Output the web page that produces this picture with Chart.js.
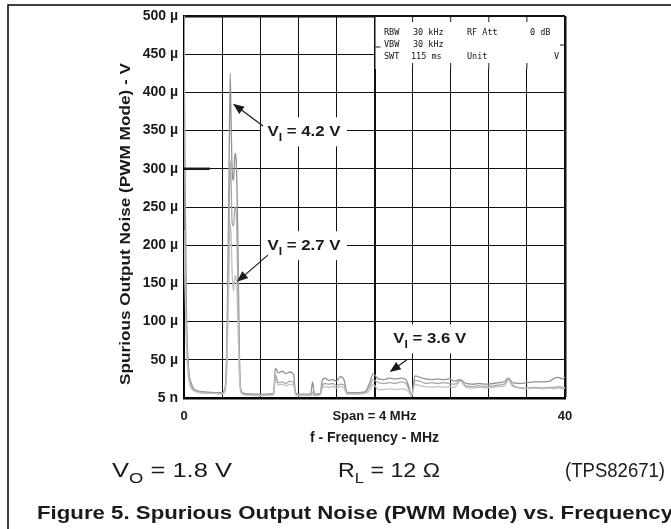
<!DOCTYPE html>
<html lang="en">
<head>
<meta charset="UTF-8">
<title>Spurious Output Noise (PWM Mode) vs. Frequency</title>
<script src="https://cdn.jsdelivr.net/npm/chart.js"></script>
<style>
  body { margin: 0; background: #fff; }
  canvas { display: block; }
</style>
</head>
<body>
<canvas id="chart" width="671" height="529"></canvas>
<script>
// frequency axis in screen units (0..40, 10 divisions, span 4 MHz)
const freq = [0, 0.1, 0.25, 0.45, 0.8, 1.3, 2.2, 3.2, 4.0, 4.3,
              4.5, 4.7, 4.85, 4.95, 5.05, 5.2, 5.35, 5.5, 5.65, 5.8,
              5.95, 6.3, 7.5, 8.6, 9.4, 9.6, 9.9, 10.3, 10.7, 11.1,
              11.5, 11.7, 11.9, 12.5, 13.3, 13.5, 13.7, 14.3, 14.5, 14.8,
              15.2, 15.6, 16.0, 16.4, 16.8, 17.1, 17.4, 18.2, 19.0, 19.5,
              19.85, 20.4, 21.0, 21.6, 22.2, 22.8, 23.3, 23.6, 23.9, 24.25,
              24.8, 25.4, 26.0, 26.6, 27.2, 27.8, 28.4, 29.0, 29.6, 30.3,
              31.0, 31.7, 32.4, 33.1, 33.7, 34.05, 34.5, 35.2, 36.0, 36.8,
              37.6, 38.4, 38.9, 39.3, 39.7, 40];

// noise in µV
const vi42 = [500, 300, 120, 45, 18, 10, 8, 7, 7, 12,
              70, 260, 425, 360, 300, 285, 320, 305, 210, 70,
              12, 6, 5, 5, 6, 39, 33, 35, 32, 34,
              31, 8, 5, 5, 5, 21, 5, 6, 22, 26,
              23, 24, 22, 28, 24, 8, 7, 7, 8, 20,
              32, 25, 24, 26, 25, 26, 24, 15, 3, 29,
              27, 25, 24, 25, 24, 25, 22, 24, 19, 18,
              19, 18, 19, 20, 22, 26, 20, 19, 20, 21,
              21, 22, 26, 27, 25, 27];

const vi36 = [500, 220, 90, 38, 15, 9, 7, 6, 6, 10,
              55, 200, 310, 280, 230, 225, 250, 240, 150, 50,
              10, 5, 4, 4, 5, 30, 20, 21, 19, 22,
              20, 6, 4, 4, 4, 8, 4, 5, 15, 19,
              18, 19, 16, 18, 17, 7, 6, 6, 7, 15,
              24, 20, 19, 20, 19, 21, 19, 12, 3, 23,
              22, 19, 20, 19, 20, 19, 18, 23, 16, 15,
              16, 15, 16, 17, 19, 25, 17, 14, 13, 14,
              13, 14, 14, 15, 14, 14];

const vi27 = [220, 150, 70, 30, 12, 8, 6, 6, 5, 9,
              40, 150, 230, 210, 165, 140, 160, 155, 100, 35,
              8, 4, 3, 3, 4, 25, 17, 18, 16, 18,
              17, 5, 3, 3, 3, 4, 3, 4, 12, 15,
              14, 15, 13, 15, 13, 5, 5, 5, 6, 10,
              18, 11, 11, 12, 11, 12, 11, 8, 3, 18,
              16, 15, 14, 15, 14, 15, 14, 22, 14, 13,
              14, 13, 14, 15, 16, 24, 15, 13, 12, 13,
              12, 13, 12, 13, 12, 13];

const xTickVals = [0, 20, 40];
const xTickText = ['0', 'Span = 4 MHz', '40'];
const yTickText = ['5 n', '50 µ', '100 µ', '150 µ', '200 µ', '250 µ',
                   '300 µ', '350 µ', '400 µ', '450 µ', '500 µ'];

const FONT = '"Liberation Sans", Arial, sans-serif';

// curve labels: text centre, arrow start, arrow tip (data coords)
const notes = [
  { v: '4.2', at: [12.6, 349], from: [8.3, 356], to: [5.15, 385] },
  { v: '2.7', at: [12.6, 200], from: [8.8, 187], to: [5.56, 152] },
  { v: '3.6', at: [25.8, 78],  from: [23.4, 50], to: [21.6, 34] }
];

function pts(vals) {
  return freq.map((f, i) => ({ x: f, y: vals[i] }));
}

// draws text made of runs (some subscripted), optionally stretched to a width
function drawRuns(ctx, runs, x, y, size, bold, width, align) {
  const f = s => (bold ? 'bold ' : '') + s + 'px ' + FONT;
  let w = 0;
  runs.forEach(r => {
    ctx.font = f(r.sub ? size * 0.72 : size);
    r.w = ctx.measureText(r.t).width;
    w += r.w;
  });
  const k = width ? width / w : 1;
  const x0 = align === 'center' ? x - w * k / 2 : x;
  ctx.save();
  ctx.translate(x0, y);
  ctx.scale(k, 1);
  let cx = 0;
  runs.forEach(r => {
    ctx.font = f(r.sub ? size * 0.72 : size);
    ctx.fillText(r.t, cx, r.sub ? size * 0.3 : 0);
    cx += r.w;
  });
  ctx.restore();
  return w * k;
}

function arrow(ctx, x1, y1, x2, y2) {
  const a = Math.atan2(y2 - y1, x2 - x1);
  const len = 11, hw = 4.5;
  ctx.beginPath();
  ctx.moveTo(x1, y1);
  ctx.lineTo(x2 - Math.cos(a) * len * 0.8, y2 - Math.sin(a) * len * 0.8);
  ctx.stroke();
  ctx.beginPath();
  ctx.moveTo(x2, y2);
  ctx.lineTo(x2 - Math.cos(a) * len + Math.sin(a) * hw, y2 - Math.sin(a) * len - Math.cos(a) * hw);
  ctx.lineTo(x2 - Math.cos(a) * len - Math.sin(a) * hw, y2 - Math.sin(a) * len + Math.cos(a) * hw);
  ctx.closePath();
  ctx.fill();
}

const decor = {
  id: 'decor',
  beforeDraw(chart) {
    const ctx = chart.ctx;
    ctx.save();
    ctx.fillStyle = '#fff';
    ctx.fillRect(0, 0, chart.width, chart.height);
    ctx.restore();
  },
  afterDatasetsDraw(chart) {
    const ctx = chart.ctx;
    const xs = chart.scales.x, ys = chart.scales.y;
    const area = chart.chartArea;
    const X = v => xs.getPixelForValue(v), Y = v => ys.getPixelForValue(v);
    ctx.save();
    ctx.fillStyle = '#1a1a1a';
    ctx.strokeStyle = '#1a1a1a';

    // display line marker at 300 µ
    ctx.lineWidth = 2.5;
    ctx.beginPath();
    ctx.moveTo(area.left, Y(300));
    ctx.lineTo(X(2.7), Y(300));
    ctx.stroke();

    // analyser settings box
    const bx = X(20) + 1, by = area.top + 1, bw = area.right - X(20) - 2, bh = 52;
    ctx.fillStyle = '#fff';
    ctx.fillRect(bx, by, bw, bh);
    ctx.fillStyle = '#111';
    ctx.lineWidth = 1;
    [24, 28, 32, 36].forEach(v => {
      ctx.beginPath();
      ctx.moveTo(X(v), by); ctx.lineTo(X(v), by + 5);
      ctx.moveTo(X(v), by + bh - 6); ctx.lineTo(X(v), by + bh);
      ctx.stroke();
    });
    ctx.beginPath();
    ctx.moveTo(bx, by + 30); ctx.lineTo(bx + 5, by + 30);
    ctx.moveTo(area.right - 5, by + 28); ctx.lineTo(area.right, by + 28);
    ctx.stroke();
    ctx.font = '8.5px "DejaVu Sans Mono", monospace';
    ctx.textBaseline = 'middle';
    ctx.textAlign = 'left';
    const r1 = by + 16, r2 = by + 28, r3 = by + 40;
    ctx.fillText('RBW', 384, r1); ctx.fillText('30 kHz', 413, r1);
    ctx.fillText('RF Att', 467, r1); ctx.fillText('0 dB', 530, r1);
    ctx.fillText('VBW', 384, r2); ctx.fillText('30 kHz', 413, r2);
    ctx.fillText('SWT', 384, r3); ctx.fillText('115 ms', 411, r3);
    ctx.fillText('Unit', 467, r3);
    ctx.textAlign = 'right';
    ctx.fillText('V', 559, r3);

    // curve labels
    ctx.textBaseline = 'alphabetic';
    ctx.textAlign = 'left';
    notes.forEach(n => {
      const cx = X(n.at[0]), cy = Y(n.at[1]);
      ctx.fillStyle = '#fff';
      ctx.fillRect(cx - 43, cy - 14, 86, 29);
      ctx.fillStyle = '#1a1a1a';
      drawRuns(ctx, [{ t: 'V' }, { t: 'I', sub: true }, { t: ' = ' + n.v + ' V' }],
               cx, cy + 5, 15, true, 73, 'center');
      ctx.lineWidth = 1.2;
      arrow(ctx, X(n.from[0]), Y(n.from[1]), X(n.to[0]), Y(n.to[1]));
    });

    // axis titles
    ctx.fillStyle = '#1a1a1a';
    ctx.save();
    ctx.translate(130, 224);
    ctx.rotate(-Math.PI / 2);
    drawRuns(ctx, [{ t: 'Spurious Output Noise (PWM Mode) - V' }], 0, 0, 15, true, 322, 'center');
    ctx.restore();
    drawRuns(ctx, [{ t: 'f - Frequency - MHz' }], (area.left + area.right) / 2, 442, 14, true, 0, 'center');

    // conditions and caption
    drawRuns(ctx, [{ t: 'V' }, { t: 'O', sub: true }, { t: ' = 1.8 V' }], 112, 477, 20, false, 120);
    drawRuns(ctx, [{ t: 'R' }, { t: 'L', sub: true }, { t: ' = 12 Ω' }], 338, 477, 20, false, 102);
    drawRuns(ctx, [{ t: '(TPS82671)' }], 565, 477, 20, false, 100);
    drawRuns(ctx, [{ t: 'Figure 5. Spurious Output Noise (PWM Mode) vs. Frequency' }], 37, 519, 18, true, 636);

    // page frame
    ctx.strokeStyle = '#000';
    ctx.lineWidth = 1.5;
    ctx.beginPath();
    ctx.moveTo(671, 5); ctx.lineTo(8, 5); ctx.lineTo(8, 529);
    ctx.stroke();
    ctx.restore();
  }
};

const ctx = document.getElementById('chart').getContext('2d');
new Chart(ctx, {
  type: 'line',
  data: {
    datasets: [
      { label: 'VI = 2.7 V', data: pts(vi27), borderColor: '#c0c0c0' },
      { label: 'VI = 3.6 V', data: pts(vi36), borderColor: '#a9a9a9' },
      { label: 'VI = 4.2 V', data: pts(vi42), borderColor: '#929292' }
    ]
  },
  options: {
    responsive: false,
    devicePixelRatio: 1,
    animation: false,
    layout: { padding: { top: 16, right: 106, bottom: 0, left: 0 } },
    elements: {
      point: { radius: 0 },
      line: { borderWidth: 1.3, cubicInterpolationMode: 'monotone' }
    },
    plugins: { legend: { display: false }, tooltip: { enabled: false } },
    scales: {
      x: {
        type: 'linear',
        min: 0, max: 40,
        afterFit(s) { s.height = 131; },
        ticks: {
          stepSize: 4,
          autoSkip: false,
          maxRotation: 0,
          padding: 11,
          color: '#1a1a1a',
          font: { family: FONT, size: 13, weight: 'bold' },
          callback: v => {
            const i = xTickVals.indexOf(v);
            return i < 0 ? '' : xTickText[i];
          }
        },
        grid: {
          color: '#111',
          drawTicks: false,
          lineWidth: c => c.tick && c.tick.value === 20 ? 2 : (c.tick && c.tick.value === 40 ? 2.5 : 1)
        },
        border: { color: '#000', width: 2.5 }
      },
      y: {
        min: 0, max: 500,
        afterFit(s) { s.width = 184; },
        ticks: {
          stepSize: 50,
          padding: 6,
          color: '#1a1a1a',
          font: { family: FONT, size: 14, weight: 'bold' },
          callback: v => yTickText[Math.round(v / 50)]
        },
        grid: {
          color: '#111',
          drawTicks: false,
          lineWidth: c => c.tick && c.tick.value === 500 ? 2.5 : 1
        },
        border: { color: '#000', width: 1.5 }
      }
    }
  },
  plugins: [decor]
});
</script>
</body>
</html>
